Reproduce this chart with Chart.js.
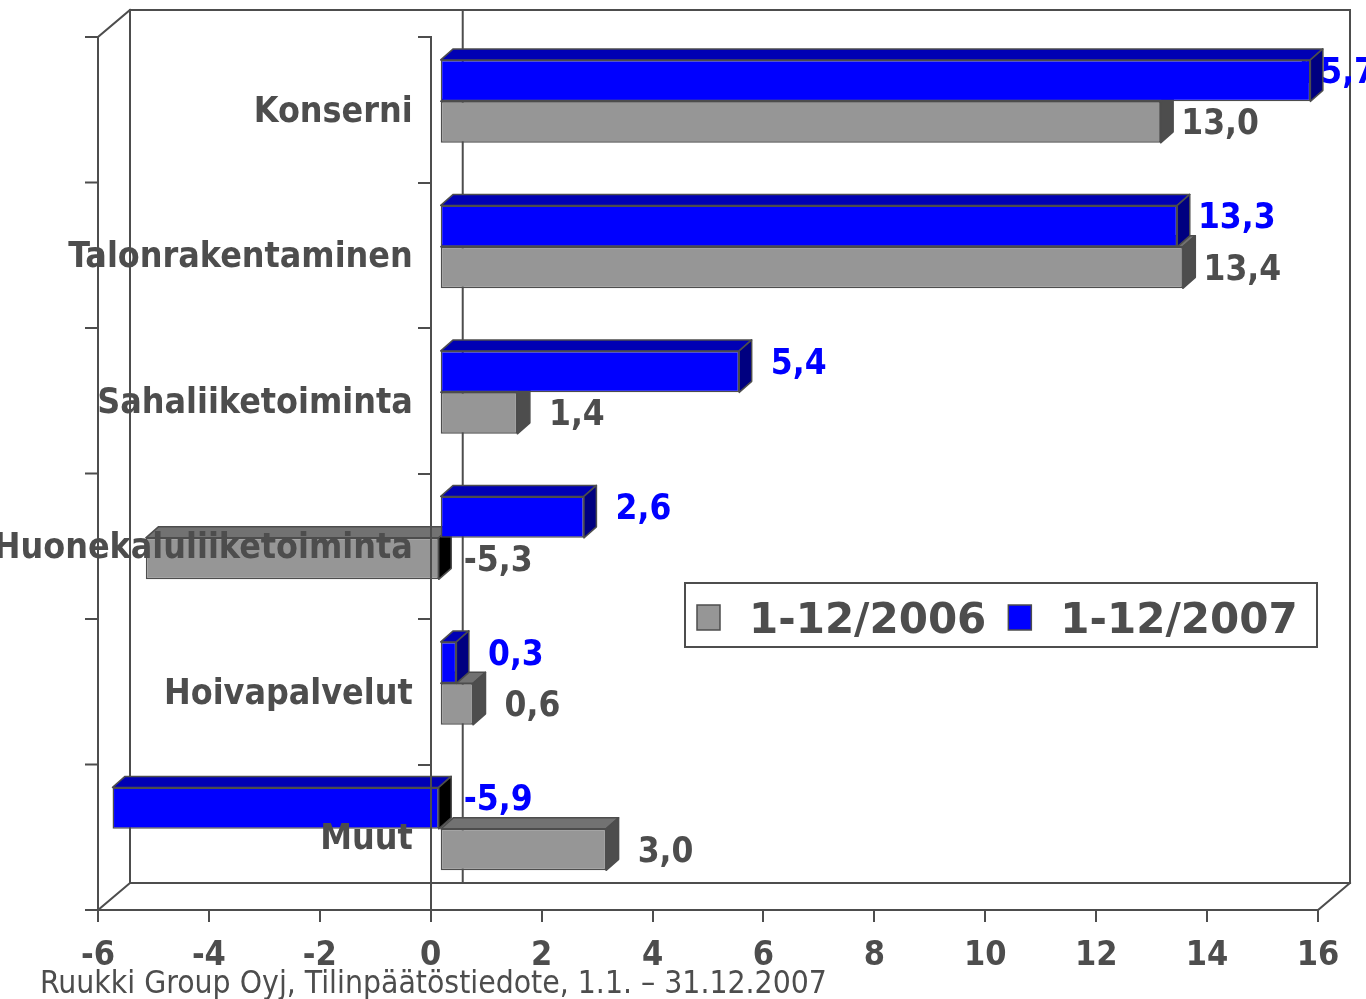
<!DOCTYPE html>
<html><head><meta charset="utf-8">
<script src="https://cdn.jsdelivr.net/npm/chart.js@4.4.0/dist/chart.umd.min.js"></script>
<style>html,body{margin:0;padding:0;background:#fff;overflow:hidden}#wrap{width:1366px;height:999px;position:relative}</style>
</head><body><div id="wrap"><canvas id="c" width="1366" height="999"></canvas></div>
<script>
// ---- data ----
const categories = ['Konserni', 'Talonrakentaminen', 'Sahaliiketoiminta', 'Huonekaluliiketoiminta', 'Hoivapalvelut', 'Muut'];
const values2007 = [15.7, 13.3, 5.4, 2.6, 0.3, -5.9];
const values2006 = [13.0, 13.4, 1.4, -5.3, 0.6, 3.0];
const seriesNames = ['1-12/2007', '1-12/2006'];
const xMin = -6, xMax = 16, xStep = 2;
const footerText = 'Ruukki Group Oyj, Tilinpäätöstiedote, 1.1. – 31.12.2007';

// ---- styles ----
const LINE = '#4d4d4d', TEXT = '#4d4d4d';
const COND = "'DejaVu Sans Condensed', 'DejaVu Sans', sans-serif";
const WIDE = "'DejaVu Sans', sans-serif";
const WALL = { x: 32, y: -27 };
const SHIFT = { x: 9, y: -8.4 };
const BDEPTH = { x: 12.5, y: -11 };
const faces = [
  { front: '#0000ff', top: '#0000b4', side: '#000080', label: '#0000ff', labelDy: -7 },
  { front: '#969696', top: '#727272', side: '#4d4d4d', label: '#4d4d4d', labelDy: 3 }
];

function poly(ctx, pts, fill) {
  ctx.beginPath();
  ctx.moveTo(pts[0][0], pts[0][1]);
  for (let i = 1; i < pts.length; i++) ctx.lineTo(pts[i][0], pts[i][1]);
  ctx.closePath();
  ctx.fillStyle = fill; ctx.fill(); ctx.stroke();
}

const framePlugin = {
  id: 'frame3d',
  beforeDraw(chart) {
    const { ctx, chartArea: a, scales: { x, y } } = chart;
    const L = a.left, R = a.right, T = a.top, B = a.bottom, dx = WALL.x, dy = WALL.y;
    ctx.save();
    ctx.strokeStyle = LINE; ctx.lineWidth = 2; ctx.lineCap = 'square';
    ctx.beginPath();
    ctx.moveTo(L + dx, B + dy); ctx.lineTo(L + dx, T + dy); ctx.lineTo(R + dx, T + dy);
    ctx.lineTo(R + dx, B + dy); ctx.lineTo(L + dx, B + dy);
    ctx.moveTo(L + dx, T + dy); ctx.lineTo(L, T); ctx.lineTo(L, B); ctx.lineTo(L + dx, B + dy);
    ctx.moveTo(R, B); ctx.lineTo(R + dx, B + dy);
    const z = x.getPixelForValue(0);
    ctx.moveTo(z + dx, T + dy); ctx.lineTo(z + dx, B + dy);
    for (let i = 0; i <= categories.length; i++) {
      const yy = y.getPixelForValue(i - 0.5);
      ctx.moveTo(L - 12, yy); ctx.lineTo(L, yy);
    }
    ctx.stroke();
    ctx.restore();
  }
};

const barsPlugin = {
  id: 'bars3d',
  beforeDatasetDraw(chart, args) {
    const ctx = chart.ctx, di = args.index, col = faces[di];
    const data = chart.data.datasets[di].data;
    ctx.save();
    ctx.translate(SHIFT.x, SHIFT.y);
    ctx.lineWidth = 1.5; ctx.strokeStyle = LINE; ctx.lineJoin = 'round';
    args.meta.data.forEach((el, i) => {
      const p = el.getProps(['x', 'y', 'base', 'height'], true);
      const l = Math.min(p.x, p.base), r = Math.max(p.x, p.base);
      const t = p.y - p.height / 2, b = p.y + p.height / 2;
      const dx = BDEPTH.x, dy = BDEPTH.y;
      poly(ctx, [[l, t], [l + dx, t + dy], [r + dx, t + dy], [r, t]], col.top);
      poly(ctx, [[r, t], [r + dx, t + dy], [r + dx, b + dy], [r, b]], data[i] < 0 ? '#000000' : col.side);
    });
  },
  afterDatasetDraw(chart) { chart.ctx.restore(); },
  beforeDatasetsDraw(chart) {
    const ctx = chart.ctx;
    ctx.save();
    ctx.font = 'bold 35px ' + COND;
    ctx.textAlign = 'center'; ctx.textBaseline = 'middle';
    chart.data.datasets.forEach((ds, di) => {
      const meta = chart.getDatasetMeta(di);
      meta.data.forEach((el, i) => {
        const v = ds.data[i];
        const p = el.getProps(['x', 'y', 'base'], true);
        const end = Math.max(p.x, p.base) + SHIFT.x + BDEPTH.x;
        const text = v.toFixed(1).replace('.', ',');
        const w = ctx.measureText(text).width;
        const cx = Math.min(end + 47, chart.width + 10 - w / 2);
        ctx.fillStyle = faces[di].label;
        ctx.fillText(text, cx, p.y + SHIFT.y + faces[di].labelDy);
      });
    });
    ctx.restore();
  },
  afterDatasetsDraw(chart) {
    // category labels beside the axis at value 0
    const { ctx, scales: { x, y } } = chart;
    ctx.save();
    ctx.font = 'bold 35.5px ' + COND;
    ctx.fillStyle = TEXT; ctx.textAlign = 'right'; ctx.textBaseline = 'middle';
    const ax = x.getPixelForValue(0) - 18;
    chart.data.labels.forEach((lab, i) => {
      ctx.fillText(lab, ax, y.getPixelForTick(i) + 3);
    });
    ctx.restore();
  },
  afterDraw(chart) {
    const ctx = chart.ctx;
    ctx.save();
    // legend
    const bx = 685, by = 583, bw = 632, bh = 64;
    ctx.fillStyle = '#ffffff'; ctx.fillRect(bx, by, bw, bh);
    ctx.strokeStyle = LINE; ctx.lineWidth = 2; ctx.strokeRect(bx, by, bw, bh);
    ctx.font = 'bold 42px ' + WIDE;
    ctx.textBaseline = 'alphabetic'; ctx.textAlign = 'left';
    let cx = bx + 12;
    const order = chart.data.datasets.map((d, i) => i).reverse();
    order.forEach(di => {
      const ds = chart.data.datasets[di];
      ctx.fillStyle = faces[di].front; ctx.lineWidth = 1.5;
      ctx.fillRect(cx, by + 22, 23, 25); ctx.strokeRect(cx, by + 22, 23, 25);
      cx += 23 + 29;
      ctx.fillStyle = TEXT;
      ctx.fillText(ds.label, cx, by + 50);
      cx += ctx.measureText(ds.label).width + 22;
    });
    // footer
    ctx.font = '31.6px ' + COND;
    ctx.fillStyle = TEXT;
    ctx.fillText(footerText, 40, 993);
    ctx.restore();
  }
};

new Chart(document.getElementById('c'), {
  type: 'bar',
  data: {
    labels: categories,
    datasets: [
      { label: seriesNames[0], data: values2007, backgroundColor: faces[0].front },
      { label: seriesNames[1], data: values2006, backgroundColor: faces[1].front }
    ]
  },
  options: {
    indexAxis: 'y',
    responsive: false,
    animation: false,
    devicePixelRatio: 1,
    layout: { padding: { left: 98, right: 48, top: 37, bottom: 0 } },
    datasets: { bar: { barPercentage: 1, categoryPercentage: 0.57, borderColor: LINE, borderWidth: 1.5, borderSkipped: false, clip: false } },
    plugins: { legend: { display: false }, tooltip: { enabled: false } },
    scales: {
      x: {
        type: 'linear', min: xMin, max: xMax, position: 'bottom',
        ticks: { stepSize: xStep, color: TEXT, font: { family: COND, size: 34, weight: 'bold' }, padding: 14, maxRotation: 0, autoSkip: false },
        grid: { drawOnChartArea: false, drawTicks: true, tickLength: 12, color: LINE, lineWidth: 2 },
        border: { display: true, color: LINE, width: 2 },
        afterFit(s) { s.height = 89; }
      },
      y: {
        type: 'category', position: { x: 0 }, offset: true,
        grid: { offset: true, drawOnChartArea: false, drawTicks: true, tickLength: 12, color: LINE, lineWidth: 2, z: 1 },
        border: { display: true, color: LINE, width: 2, z: 1 },
        ticks: { display: false, autoSkip: false }
      }
    }
  },
  plugins: [framePlugin, barsPlugin]
});
</script></body></html>
